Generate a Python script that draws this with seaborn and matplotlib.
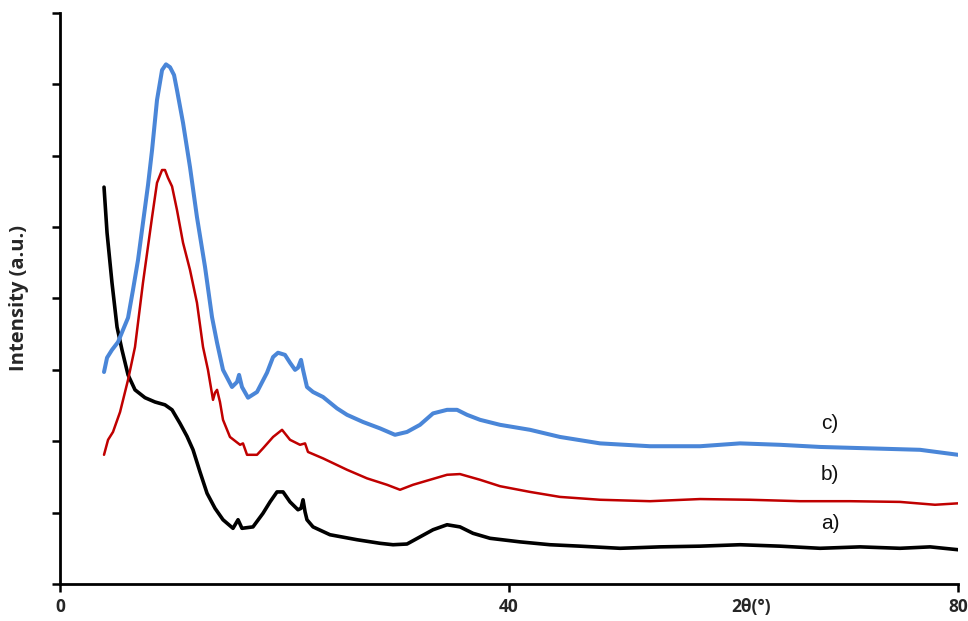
import numpy as np
import pandas as pd
import seaborn as sns
import matplotlib.pyplot as plt

# traces (2theta in degrees, intensity in arbitrary units)
x_a = [3.92, 4.19, 4.63, 5.08, 5.52, 6.06, 6.68, 7.57, 8.46, 9.35, 9.98, 10.69, 11.31,
       11.85, 12.47, 13.10, 13.81, 14.52, 15.41, 15.86, 16.21, 17.19, 18.08, 18.71, 19.33,
       19.87, 20.49, 21.20, 21.47, 21.65, 21.83, 22.00, 22.54, 24.05, 26.46, 28.51, 29.67,
       30.91, 32.07, 33.23, 34.48, 35.63, 36.79, 38.31, 40.98, 43.65, 46.33, 49.89, 53.45,
       57.02, 60.58, 64.14, 67.71, 71.27, 74.83, 77.51, 80.0]
y_a = [5.56, 4.92, 4.22, 3.60, 3.28, 2.93, 2.72, 2.61, 2.55, 2.51, 2.44, 2.25, 2.07,
       1.88, 1.57, 1.27, 1.06, 0.90, 0.78, 0.90, 0.78, 0.80, 0.99, 1.15, 1.29,
       1.29, 1.15, 1.04, 1.06, 1.18, 1.01, 0.90, 0.80, 0.69, 0.62, 0.57, 0.55,
       0.56, 0.66, 0.76, 0.83, 0.80, 0.71, 0.64, 0.59, 0.55, 0.53, 0.50, 0.52,
       0.53, 0.55, 0.53, 0.50, 0.52, 0.50, 0.52, 0.48]

x_b = [3.92, 4.28, 4.72, 5.35, 6.06, 6.68, 7.39, 8.20, 8.64, 9.09, 9.35, 9.62, 9.98,
       10.42, 10.96, 11.58, 12.20, 12.74, 13.18, 13.63, 13.81, 13.99, 14.25, 14.52, 15.14,
       16.04, 16.30, 16.66, 17.55, 18.08, 18.98, 19.78, 20.49, 21.38, 21.83, 22.09, 23.43,
       25.57, 27.35, 29.13, 30.29, 31.45, 32.96, 34.48, 35.63, 37.42, 39.20, 41.87, 44.54,
       48.11, 52.56, 57.02, 61.47, 65.92, 70.38, 74.83, 77.95, 80.0]
y_b = [1.81, 2.02, 2.13, 2.41, 2.86, 3.32, 4.22, 5.14, 5.62, 5.80, 5.80, 5.69, 5.57,
       5.24, 4.78, 4.40, 3.94, 3.32, 3.00, 2.58, 2.68, 2.72, 2.55, 2.30, 2.06,
       1.95, 1.97, 1.81, 1.81, 1.90, 2.06, 2.16, 2.02, 1.95, 1.97, 1.85, 1.76,
       1.60, 1.48, 1.39, 1.32, 1.39, 1.46, 1.53, 1.54, 1.46, 1.37, 1.29, 1.22,
       1.18, 1.16, 1.19, 1.18, 1.16, 1.16, 1.15, 1.11, 1.13]

x_c = [3.92, 4.19, 4.63, 5.17, 5.61, 6.06, 6.50, 6.95, 7.39, 7.84, 8.20, 8.64, 9.09,
       9.44, 9.80, 10.16, 10.42, 10.96, 11.58, 12.20, 12.92, 13.54, 13.99, 14.52, 15.32,
       15.77, 15.95, 16.21, 16.75, 17.55, 18.44, 18.98, 19.42, 20.04, 20.49, 20.94, 21.20,
       21.47, 21.65, 22.00, 22.54, 23.43, 24.68, 25.57, 26.99, 28.51, 29.84, 30.91, 32.07,
       33.23, 34.48, 35.37, 36.26, 37.42, 39.20, 41.87, 44.54, 48.11, 52.56, 57.02, 60.58,
       64.14, 67.71, 72.16, 76.61, 80.0]
y_c = [2.97, 3.17, 3.28, 3.39, 3.56, 3.73, 4.12, 4.54, 5.06, 5.59, 6.08, 6.78, 7.20,
       7.28, 7.24, 7.13, 6.92, 6.46, 5.84, 5.14, 4.44, 3.74, 3.38, 3.00, 2.76,
       2.83, 2.93, 2.76, 2.61, 2.69, 2.96, 3.18, 3.24, 3.21, 3.10, 3.00, 3.03,
       3.14, 3.00, 2.76, 2.69, 2.62, 2.46, 2.37, 2.27, 2.18, 2.09, 2.13, 2.23,
       2.39, 2.44, 2.44, 2.37, 2.30, 2.23, 2.16, 2.06, 1.97, 1.93, 1.93, 1.97,
       1.95, 1.92, 1.90, 1.88, 1.81]

labels = ['a)', 'b)', 'c)']
label_x = 68.6
label_y = [0.72, 1.4, 2.12]
colors = ['#000000', '#c00000', '#4a86d8']
widths = [2.6, 1.8, 2.9]

xticks = [0, 40, 80]

sns.set_style('white')
plt.rcParams['font.family'] = ['Open Sans', 'DejaVu Sans']

fig = plt.figure(figsize=(9.68, 6.21), dpi=100)
ax = fig.add_axes([0.062, 0.0596, 0.9277, 0.9195])

series = [(x_a, y_a), (x_b, y_b), (x_c, y_c)]
for (xs, ys), col, lw in zip(series, colors, widths):
    df = pd.DataFrame({'x': xs, 'y': ys})
    sns.lineplot(data=df, x='x', y='y', color=col, linewidth=lw, ax=ax,
                 estimator=None, sort=False)

for lab, ly in zip(labels, label_y):
    ax.text(label_x, ly, lab, fontsize=15, family='Liberation Sans',
            ha='center', va='bottom', color='#111111')

ax.set_xlim(0, 80)
ax.set_ylim(0, 8)
ax.set_xticks(xticks)
ax.set_xticklabels([str(t) for t in xticks], fontsize=12.5, fontweight='bold')
ax.set_yticks(np.arange(0, 9, 1))
ax.set_yticklabels([])
ax.tick_params(axis='both', direction='out', length=6, width=1.8, color='black',
               left=True, bottom=True)
ax.tick_params(axis='x', pad=4)
ax.tick_params(axis='y', pad=2)
ax.set_xlabel('')
ax.set_ylabel('Intensity (a.u.)', fontsize=14.5, fontweight='bold', labelpad=14)
ax.annotate('2θ(°)', xy=(61.6, 0), xycoords=('data', 'axes fraction'),
            xytext=(0, -10), textcoords='offset points', ha='center', va='top',
            fontsize=12.5, fontweight='bold')

for s in ['top', 'right']:
    ax.spines[s].set_visible(False)
for s in ['left', 'bottom']:
    ax.spines[s].set_color('black')
    ax.spines[s].set_linewidth(2.0)

fig.savefig('out.png', dpi=100)
